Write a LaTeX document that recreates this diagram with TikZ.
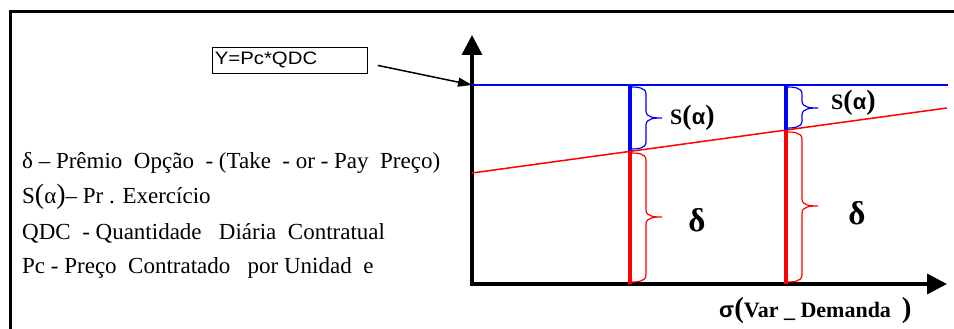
\documentclass[tikz,border=0pt]{standalone}
\usepackage{fontspec}
\setmainfont{Liberation Serif}
\newfontfamily\arialf{Liberation Sans}
\usetikzlibrary{arrows.meta}
\newcommand\myfs[1]{\fontsize{#1}{#1}\selectfont}
% brace: x, ytop, ybottom, ytip, style
\newcommand\mybrace[5]{\draw[#5] (#1,#2) to[out=0,in=90] ({#1+16},{#2+7}) -- ({#1+16},{#4-7}) to[out=-90,in=180] ({#1+32},#4) to[out=180,in=90] ({#1+16},{#4+7}) -- ({#1+16},{#3-7}) to[out=-90,in=0] (#1,#3);}
\definecolor{pblue}{RGB}{0,0,255}
\definecolor{pred}{RGB}{255,0,0}
\tikzset{
  legend/.style={anchor=base west, inner sep=0pt, font=\myfs{23}},
  bracelbl/.style={anchor=west, inner sep=0pt, font=\myfs{22}\bfseries},
  deltalbl/.style={inner sep=0pt, font=\myfs{33}\bfseries},
  axis/.style={line width=3.5pt, {Triangle[length=20pt,width=20pt]}-{Triangle[length=20pt,width=20pt]}},
  bar/.style={line width=4pt},
  brc/.style={line width=1.2pt},
}
\begin{document}
\begin{tikzpicture}[x=1pt,y=-1pt]
\useasboundingbox (0,0) rectangle (954,329);
% frame
\draw[line width=3pt] (10,340) -- (10,12) -- (965,12);
% axes
\coordinate (O) at (472,284);
\coordinate (Ytop) at (472,35);
\coordinate (Xend) at (947,284);
\draw[axis] (Ytop) -- (O) -- (Xend);
% lines
\coordinate (B0) at (472,85);
\coordinate (B1) at (948,85);
\coordinate (R0) at (472,173);
\coordinate (R1) at (947,108);
\coordinate (Ta) at (630,85);
\coordinate (Ma) at (630,151.4);
\coordinate (Ba) at (630,284);
\coordinate (Tb) at (786,85);
\coordinate (Mb) at (786,130);
\coordinate (Bb) at (786,284);
\draw[pblue, line width=2pt] (B0) -- (B1);
\draw[pred, line width=1.5pt] (R0) -- (R1);
\draw[bar, pblue] (Ta) -- (Ma);
\draw[bar, pred] (Ma) -- (Ba);
\draw[bar, pblue] (Tb) -- (Mb);
\draw[bar, pred] (Mb) -- (Bb);
% braces
\mybrace{630}{87}{149}{118}{pblue,brc}
\mybrace{630}{153}{282}{217}{pred,brc}
\mybrace{786}{87}{128}{108}{pblue,brc}
\mybrace{786}{132}{282}{206}{pred,brc}
% brace labels
\node[bracelbl] (s1) at (670,118) {S{\myfs{28}(}{\arialf α}{\myfs{28})}};
\node[bracelbl] (s2) at (831,103) {S{\myfs{28}(}{\arialf α}{\myfs{28})}};
\node[deltalbl] (d1) at (697,220) {δ};
\node[deltalbl] (d2) at (857,213) {δ};
% x label
\node[anchor=base west, inner sep=0pt, font=\myfs{22}\bfseries] (xl) at (719,317) {{\arialf σ}{\myfs{29}(}Var \_ Demanda\ \ {\myfs{29})}};
% Y box
\node[draw, line width=0.8pt, anchor=north west, minimum width=155pt, minimum height=26pt, inner sep=1.5pt, text width=150pt, align=left, font=\arialf\myfs{18}] (ybox) at (212,47) {\scalebox{1.13}[1]{Y=Pc*QDC}};
\draw[line width=1.5pt, -{Triangle[length=14pt,width=9pt]}] ([xshift=10pt,yshift=-5pt]ybox.east) -- (B0);
% legend
\node[legend] (l1) at (22,168) {δ – Prêmio\ \ Opção\ \ - (Take\ \ - or - Pay\ \ Preço)};
\node[legend] (l2) at (22,203) {S{\myfs{28}(}α{\myfs{28})}– Pr . Exercício};
\node[legend] (l3) at (22,239) {QDC\ \ - Quantidade\ \ \ Diária\ \ Contratual};
\node[legend] (l4) at (22,273) {Pc\ - Preço\ \ Contratado\ \ \ por Unidad\ \ e};
\end{tikzpicture}
\end{document}
